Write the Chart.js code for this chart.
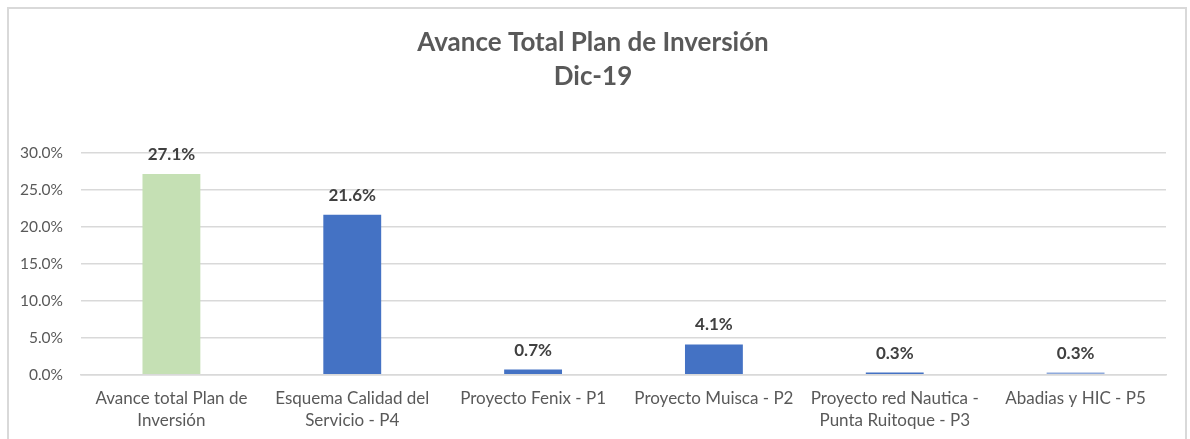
<!DOCTYPE html>
<html>
<head>
<meta charset="utf-8">
<script src="https://cdn.jsdelivr.net/npm/chart.js@4"></script>
<style>
 html, body { margin: 0; padding: 0; background: #fff; overflow: hidden; }
 #frame {
  position: absolute; left: 7px; top: 7px; width: 1176px; height: 470px;
  border: 2px solid #D9D9D9; background: #fff;
 }
 #wrap { position: absolute; left: 0; top: 0; width: 1176px; height: 436px; }
</style>
</head>
<body>
<div id="frame"><div id="wrap"><canvas id="chart-canvas"></canvas></div></div>
<script>
var categories = [
 ["Avance total Plan de", "Inversión"],
 ["Esquema Calidad del", "Servicio - P4"],
 ["Proyecto Fenix - P1"],
 ["Proyecto Muisca - P2"],
 ["Proyecto red Nautica -", "Punta Ruitoque - P3"],
 ["Abadias y HIC - P5"]
];
var avanceValues = [0.271, 0.216, 0.007, 0.041, 0.003, 0.003];
var barColors = ["#C5E0B4", "#4472C4", "#4472C4", "#4472C4", "#4472C4", "#8FAADC"];
var yTicks = [0, 0.05, 0.10, 0.15, 0.20, 0.25, 0.30];

var fontFamily = "Lato, 'Noto Sans', sans-serif";

function pct(v) {
 return (v * 100).toFixed(1) + "%";
}

// value labels above each bar
var valueLabels = {
 id: "valueLabels",
 afterDatasetsDraw: function (chart) {
  var ctx = chart.ctx;
  var meta = chart.getDatasetMeta(0);
  ctx.save();
  ctx.font = "bold 17px " + fontFamily;
  ctx.fillStyle = "#404040";
  ctx.textAlign = "center";
  ctx.textBaseline = "bottom";
  meta.data.forEach(function (bar, i) {
   ctx.fillText(pct(avanceValues[i]), bar.x, bar.y - 11);
  });
  ctx.restore();
 }
};

var ctx = document.getElementById("chart-canvas");
new Chart(ctx, {
 type: "bar",
 data: {
  labels: categories,
  datasets: [
   {
    label: "Avance",
    data: avanceValues,
    backgroundColor: barColors,
    categoryPercentage: 1,
    barPercentage: 0.32,
   },
  ],
 },
 options: {
  responsive: true,
  maintainAspectRatio: false,
  animation: false,
  layout: { padding: { left: 11, right: 19, top: 10, bottom: 8 } },
  plugins: {
   legend: { display: false },
   tooltip: { enabled: false },
   title: {
    display: true,
    text: ["Avance Total Plan de Inversión", "Dic-19"],
    color: "#595959",
    font: { family: fontFamily, size: 26, weight: "bold", lineHeight: 1.3 },
    padding: { top: 7, bottom: 59 },
   },
  },
  scales: {
   y: {
    min: 0,
    max: 0.3,
    afterBuildTicks: function (axis) {
     axis.ticks = yTicks.map(function (v) { return { value: v }; });
    },
    afterFit: function (axis) {
     axis.width = 61;
    },
    ticks: {
     color: "#595959",
     font: { family: fontFamily, size: 15.5 },
     padding: 18,
     callback: function (v) { return pct(v); },
    },
    grid: { color: "#D9D9D9", lineWidth: 1.5, drawTicks: false },
    border: { display: false },
   },
   x: {
    ticks: {
     color: "#595959",
     font: { family: fontFamily, size: 17, lineHeight: 1.3 },
     padding: 5,
     maxRotation: 0,
     autoSkip: false,
    },
    grid: { display: false },
    border: { color: "#D9D9D9", width: 1.5 },
   },
  },
 },
 plugins: [valueLabels],
});
</script>
</body>
</html>
